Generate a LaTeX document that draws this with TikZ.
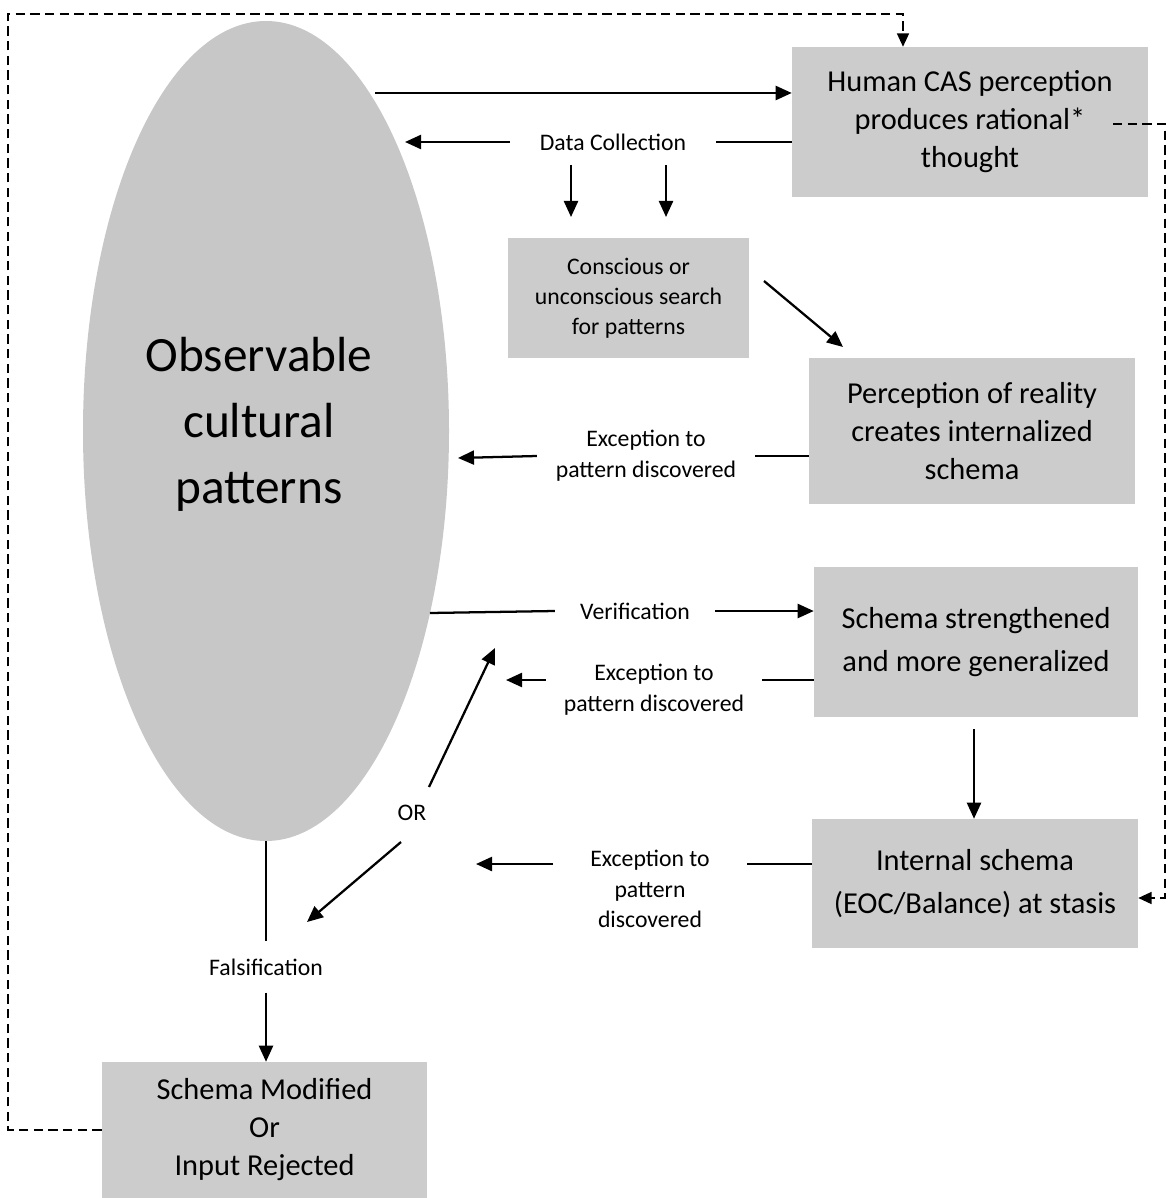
\documentclass[tikz,border=0pt]{standalone}
\usepackage{fontspec}
\setmainfont{Carlito}
\usetikzlibrary{arrows.meta,shapes.geometric}
\definecolor{boxgray}{gray}{0.80}
\definecolor{ellgray}{gray}{0.78}
\begin{document}
\begin{tikzpicture}[x=0.75pt,y=-0.75pt,
  box/.style={fill=boxgray, inner sep=0pt, align=center,
    font=\fontsize{22.8}{28.5}\selectfont},
  boxwide/.style={box, font=\fontsize{22.8}{32.5}\selectfont},
  lbl/.style={align=center, inner ysep=0pt,
    font=\fontsize{17.8}{23}\selectfont},
  ln/.style={line width=1.7pt},
  arr/.style={line width=1.7pt, -{Triangle[length=12pt,width=10.5pt]}},
  dsharr/.style={line width=1.2pt, dash pattern=on 7pt off 4pt,
    -{Triangle[length=10pt,width=9pt]}},
]
\useasboundingbox (0,0) rectangle (1168,1198);

% central ellipse
\node[ellipse, fill=ellgray, minimum width=274.5pt, minimum height=615pt,
  inner sep=0pt] (ell) at (266,431) {};
\node[align=center, font=\fontsize{37}{49.5}\selectfont] (obs) at (259,424)
  {Observable\\cultural\\patterns};

% boxes
\node[box, minimum width=267pt, minimum height=112.5pt] (b1) at (970,122)
  {Human CAS perception\\produces rational*\\thought};
\node[box, font=\fontsize{17.8}{22.5}\selectfont,
  minimum width=180.75pt, minimum height=90pt] (b2) at (628.5,298)
  {Conscious or\\unconscious search\\for patterns};
\node[box, minimum width=244.5pt, minimum height=109.5pt] (b3) at (972,431)
  {Perception of reality\\creates internalized\\schema};
\node[boxwide, minimum width=243pt, minimum height=112.5pt] (b4) at (976,642)
  {Schema strengthened\\and more generalized};
\node[boxwide, minimum width=244.5pt, minimum height=96.75pt] (b5) at (975,883.5)
  {Internal schema\\(EOC/Balance) at stasis};
\node[box, minimum width=243.75pt, minimum height=102pt] (b6) at (264.5,1130)
  {Schema Modified\\Or\\Input Rejected};

% connector labels
\node[lbl, inner xsep=22.5pt] (dc) at (613,142) {Data Collection};
\node[lbl, inner xsep=14pt] (ex1) at (646,456) {Exception to\\pattern discovered};
\node[lbl, inner xsep=18.75pt] (ver) at (635,611) {Verification};
\node[lbl, inner xsep=13.5pt] (ex2) at (654,690) {Exception to\\pattern discovered};
\node[lbl, inner xsep=27.75pt] (ex3) at (650,889) {Exception to\\pattern\\discovered};
\node[lbl] (orl) at (412,813) {OR};
\node[lbl, inner ysep=12.75pt] (fal) at (266,967) {Falsification};

% free ends of connectors
\coordinate (eTop) at (375,93);
\coordinate (eDC) at (405,142);
\coordinate (dcA) at (571,165);
\coordinate (dcA2) at (571,217);
\coordinate (dcB) at (666,165);
\coordinate (dcB2) at (666,217);
\coordinate (dgS) at (764,281);
\coordinate (dgE) at (843,347);
\coordinate (eEx1) at (458,458);
\coordinate (eVer) at (430,613);
\coordinate (y2) at (0,680);
\coordinate (eEx2) at (506,680);
\coordinate (v45) at (974,729);
\coordinate (y3) at (0,864);
\coordinate (eEx3) at (476,864);
\coordinate (orUpS) at (429,787);
\coordinate (orUpE) at (495,648);
\coordinate (orDnS) at (401,842);
\coordinate (orDnE) at (307,922);
\coordinate (topL) at (8,14);
\coordinate (topR) at (903,14);
\coordinate (rS) at (1113,124);
\coordinate (rBot) at (1165,898);

% solid connectors
\draw[arr] (eTop) -- (eTop -| b1.west);
\draw[ln] (b1.west |- dc) -- (dc.east);
\draw[arr] (dc.west) -- (eDC);
\draw[arr] (dcA) -- (dcA2);
\draw[arr] (dcB) -- (dcB2);
\draw[arr] (dgS) -- (dgE);
\draw[ln] (b3.west |- ex1) -- (ex1.east);
\draw[arr] (ex1.west) -- (eEx1);
\draw[ln] (eVer) -- (ver.west);
\draw[arr] (ver.east) -- (ver.east -| b4.west);
\draw[ln] (b4.west |- y2) -- (ex2.east |- y2);
\draw[arr] (ex2.west |- y2) -- (eEx2);
\draw[arr] (v45) -- (v45 |- b5.north);
\draw[ln] (b5.west |- y3) -- (ex3.east |- y3);
\draw[arr] (ex3.west |- y3) -- (eEx3);
\draw[arr] (orUpS) -- (orUpE);
\draw[arr] (orDnS) -- (orDnE);
\draw[ln] (ell.south) -- (ell.south |- fal.north);
\draw[arr] (fal.south) -- (fal.south |- b6.north);

% dashed feedback loops
\draw[dsharr] (b6.west) -| (topL) -- (topR) -- (topR |- b1.north);
\draw[dsharr] (rS) -| (rBot) -- (rBot -| b5.east);
\end{tikzpicture}
\end{document}
